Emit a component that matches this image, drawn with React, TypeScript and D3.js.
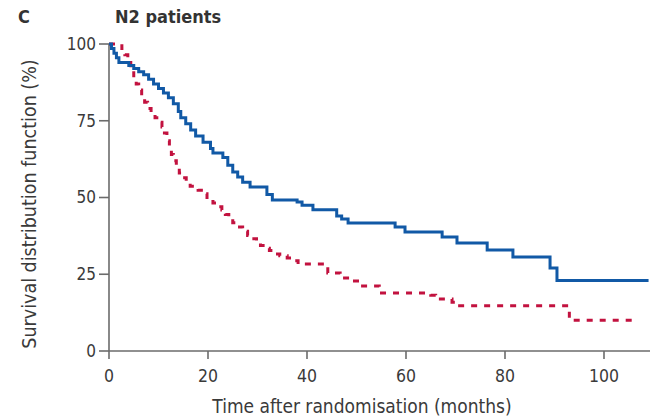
import React from "react";
import * as d3 from "d3";

const xTicks = [0, 20, 40, 60, 80, 100];
const yTicks = [0, 25, 50, 75, 100];

// [time (months), survival (%)] step points
const blueSeries: [number, number][] = [
  [0, 100], [0.5, 98.5], [1.0, 97], [1.5, 95.5], [2, 94], [4, 93], [5, 92], [6, 91], [7, 90],
  [8, 88.5], [9, 87], [10, 85.5], [11, 84], [12, 82.5], [13, 80.5], [14, 78], [14.5, 76],
  [15.5, 74], [16.5, 72], [17.5, 70], [19, 68], [20.5, 66], [21, 64.5], [23, 63], [24, 60.5],
  [25, 58.3], [26, 56.7], [27, 55], [28.5, 53.4], [31.9, 51], [33, 49.2], [38, 48.5],
  [39, 47.5], [41.2, 46], [46, 44], [47, 43], [48.3, 41.7], [57.8, 40.4], [59.8, 38.8],
  [67.3, 37.1], [70.3, 35.2], [76.4, 32.9], [81.6, 30.6], [89.1, 27], [90.5, 23], [109, 23],
];

const redSeries: [number, number][] = [
  [0, 100], [2.6, 98.5], [3.2, 96.5], [3.8, 94], [4.4, 91.5], [5, 89], [5.5, 87], [6, 85],
  [6.6, 83], [7.2, 81], [7.8, 79], [8.5, 77.5], [9.3, 76], [10, 74.5], [10.7, 73], [11.2, 71],
  [11.7, 68.5], [12.2, 66.3], [12.6, 64], [13, 62], [13.6, 60], [14.2, 58], [14.8, 56.4],
  [15.6, 55], [16.4, 53.7], [18, 52.4], [19, 51.2], [19.8, 50], [21, 48.2], [22, 47],
  [22.8, 45.9], [23.5, 44.5], [24.2, 43], [25, 41.8], [26, 40.4], [27, 39], [28, 37.6],
  [28.8, 36.6], [29.8, 35.4], [30.6, 34.4], [31.5, 33.5], [32.4, 32.7], [33.5, 31.6],
  [34.5, 31], [36, 30.3], [37.2, 29.4], [38.2, 28.3], [44.2, 25.4], [46.7, 23.8],
  [48.5, 22.8], [50.7, 21.2], [54.6, 18.9], [65, 18.2], [66, 16.9], [69.3, 15.9],
  [70.3, 14.7], [93, 10], [107, 10],
];

const panelLabel = "C";
const titleText = "N2 patients";
const xTitle = "Time after randomisation (months)";
const yTitle = "Survival distribution function (%)";

export default function App() {
  const W = 651, H = 419;
  const x = d3.scaleLinear().domain([0, 100]).range([109, 604]);
  const y = d3.scaleLinear().domain([0, 100]).range([351, 44]);
  const line = d3
    .line<[number, number]>()
    .x((d) => x(d[0]))
    .y((d) => y(d[1]))
    .curve(d3.curveStepAfter);
  const font = "'Liberation Sans Narrow', 'DejaVu Sans Condensed', 'Liberation Sans', sans-serif";
  const axisColor = "#6b6b6b";
  const textColor = "#3a3a3a";
  const x0 = x(0), y0 = y(0);
  return (
    <svg width={W} height={H} style={{ position: "absolute", left: 0, top: 0, background: "#fff" }}>
      <text x={18} y={23} fontFamily={font} fontWeight="bold" fontSize={18} fill="#333">{panelLabel}</text>
      <text x={115} y={23} fontFamily={font} fontWeight="bold" fontSize={18} fill="#333">{titleText}</text>
      {/* axes */}
      <line x1={x0} x2={650} y1={y0} y2={y0} stroke={axisColor} strokeWidth={1.6} />
      <line x1={x0} x2={x0} y1={y(100)} y2={y0} stroke={axisColor} strokeWidth={1.6} />
      {yTicks.map((t) => (
        <g key={"y" + t}>
          <line x1={x0 - 10} x2={x0} y1={y(t)} y2={y(t)} stroke={axisColor} strokeWidth={1.6} />
          <text x={x0 - 13} y={y(t)} dy="0.35em" textAnchor="end" fontFamily={font} fontSize={17} fill={textColor}>{t}</text>
        </g>
      ))}
      {xTicks.map((t) => (
        <g key={"x" + t}>
          <line x1={x(t)} x2={x(t)} y1={y0} y2={y0 + 8} stroke={axisColor} strokeWidth={1.6} />
          <text x={x(t)} y={y0 + 31} textAnchor="middle" fontFamily={font} fontSize={17.5} fill={textColor}>{t}</text>
        </g>
      ))}
      <text x={362} y={413} textAnchor="middle" fontFamily={font} fontSize={19} fill={textColor}>{xTitle}</text>
      <text transform={`translate(36,204) rotate(-90)`} textAnchor="middle" fontFamily={font} fontSize={19.5} fill={textColor}>{yTitle}</text>
      {/* curves */}
      <path d={line(redSeries) || ""} fill="none" stroke="#c2123f" strokeWidth={3} strokeDasharray="6,7" />
      <path d={line(blueSeries) || ""} fill="none" stroke="#1159a6" strokeWidth={3} />
    </svg>
  );
}
